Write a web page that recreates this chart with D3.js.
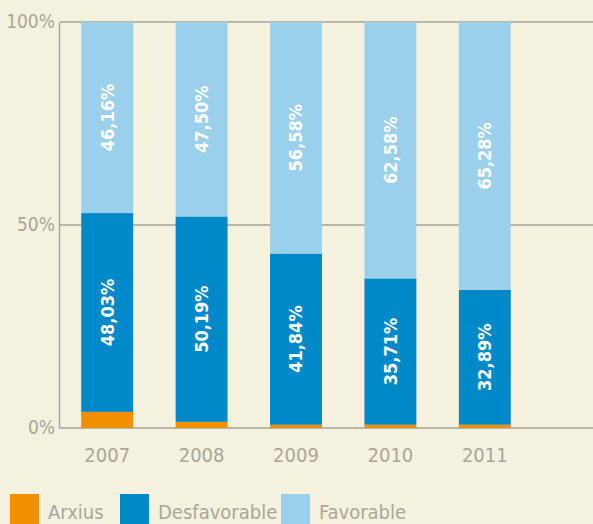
<!DOCTYPE html>
<html>
<head>
<meta charset="utf-8">
<script src="https://cdn.jsdelivr.net/npm/d3@7"></script>
<style>
  html, body { margin: 0; padding: 0; background: #f4f1de; }
  svg { display: block; }
  text { font-family: "Liberation Sans Narrow", "DejaVu Sans Condensed", "Roboto Condensed", sans-serif; }
</style>
</head>
<body>
<svg width="593" height="524"></svg>
<script>
// DATA
const years = ["2007", "2008", "2009", "2010", "2011"];
const arxius = [3.9, 1.5, 0.8, 0.8, 0.8];
const desfavorable = [48.03, 50.19, 41.84, 35.71, 32.89];
const favorable = [46.16, 47.50, 56.58, 62.58, 65.28];
const yTicks = [0, 0.5, 1];

const seriesNames = ["Arxius", "Desfavorable", "Favorable"];
const colors = ["#f08f00", "#0089c8", "#9bd0ea"];

const svg = d3.select("svg");

// SCALE
const xScale = d3.scaleBand()
    .domain(years)
    .range([60, 532])
    .paddingInner(0.45)
    .paddingOuter(0.225);

const yScale = d3.scaleLinear()
    .domain([0, 1])
    .range([428, 22]);

const table = years.map((y, i) => ({
    year: y,
    Arxius: arxius[i],
    Desfavorable: desfavorable[i],
    Favorable: favorable[i]
}));

const stacked = d3.stack()
    .keys(seriesNames)
    .offset(d3.stackOffsetExpand)(table);

// GRID
svg.append("g")
    .selectAll("line")
    .data(yTicks)
    .join("line")
    .attr("x1", 60)
    .attr("x2", 593)
    .attr("y1", d => yScale(d))
    .attr("y2", d => yScale(d))
    .attr("stroke", "#b9b6aa")
    .attr("stroke-width", 2);

// Y AXIS
const yAxis = svg.append("g")
    .attr("transform", "translate(59,0)")
    .call(d3.axisLeft(yScale)
        .tickValues(yTicks)
        .tickSize(0)
        .tickPadding(4)
        .tickFormat(d3.format(".0%")));
yAxis.select(".domain").attr("stroke", "#a9a69b").attr("stroke-width", 1.5);
yAxis.selectAll("text")
    .attr("fill", "#aaa69b")
    .attr("font-size", 19)
    .attr("font-family", null)
    .attr("dy", "0.3em");

// BARS
const groups = svg.append("g")
    .selectAll("g")
    .data(stacked)
    .join("g")
    .attr("fill", (d, i) => colors[i]);

groups.selectAll("rect")
    .data(d => d)
    .join("rect")
    .attr("x", d => xScale(d.data.year))
    .attr("y", d => yScale(d[1]))
    .attr("width", xScale.bandwidth())
    .attr("height", d => yScale(d[0]) - yScale(d[1]));

// LABELS
const fmt = d3.formatLocale({ decimal: ",", thousands: ".", grouping: [3], currency: ["", "€"] }).format(".2f");

stacked.slice(1).forEach(s => {
    svg.append("g")
        .selectAll("text")
        .data(s)
        .join("text")
        .attr("transform", d => {
            const cx = xScale(d.data.year) + xScale.bandwidth() / 2;
            const cy = (yScale(d[0]) + yScale(d[1])) / 2;
            return `translate(${cx},${cy}) rotate(-90)`;
        })
        .attr("text-anchor", "middle")
        .attr("dy", "0.35em")
        .attr("fill", "#ffffff")
        .attr("font-weight", "bold")
        .attr("font-size", 18)
        .text(d => fmt(d.data[s.key]) + "%");
});

// X AXIS LABELS
svg.append("g")
    .selectAll("text")
    .data(years)
    .join("text")
    .attr("x", d => xScale(d) + xScale.bandwidth() / 2)
    .attr("y", 462)
    .attr("text-anchor", "middle")
    .attr("fill", "#aaa69b")
    .attr("font-size", 20)
    .text(d => d);

// LEGEND
const legendX = [10, 120, 281];
const legend = svg.append("g")
    .selectAll("g")
    .data(seriesNames)
    .join("g")
    .attr("transform", (d, i) => `translate(${legendX[i]},494)`);

legend.append("rect")
    .attr("width", 29)
    .attr("height", 30)
    .attr("fill", (d, i) => colors[i]);

legend.append("text")
    .attr("x", 38)
    .attr("y", 25)
    .attr("fill", "#aaa69b")
    .attr("font-size", 20)
    .text(d => d);
</script>
</body>
</html>
